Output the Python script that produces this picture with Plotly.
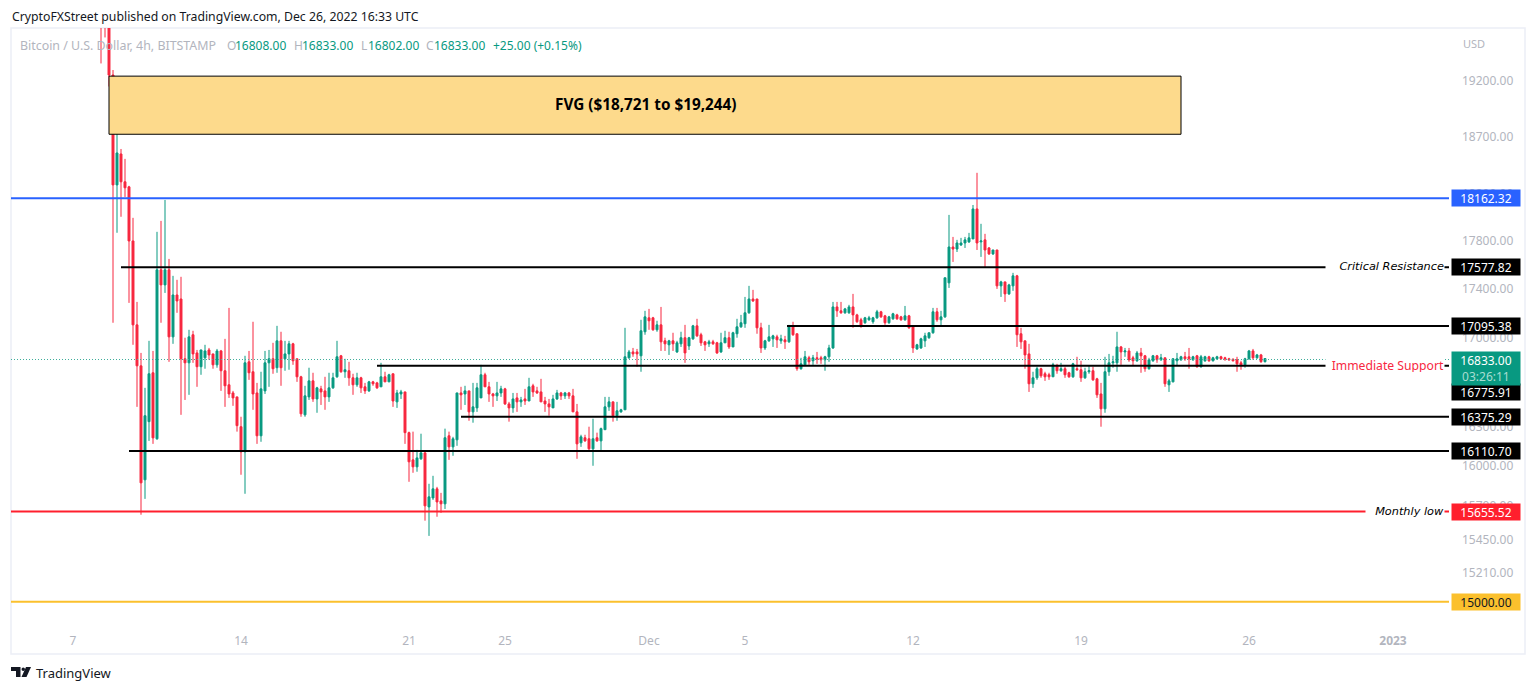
import pandas as pd
import numpy as np
import plotly.graph_objects as go

FIRST_BAR = "2022-11-08 04:00"

opens = [
19850,19900,19800,19254,18277,18547,18304,18260,17798,17104,
16775,15893,16337,16720,16205,17556,17431,17556,17007,17348,
17315,16831,16799,17024,16878,16768,16839,16902,16870,16783,
16894,16736,16625,16561,16530,16298,16105,16807,16728,16561,
16228,16577,16799,16831,16760,16975,16831,16870,16951,16831,
16688,16390,16530,16656,16514,16593,16577,16530,16601,16688,
16855,16728,16736,16680,16625,16680,16609,16577,16648,16640,
16609,16688,16648,16712,16491,16553,16569,16252,16044,15991,
16052,16097,15690,15757,15825,15735,15713,16228,16143,16197,
16561,16553,16577,16413,16444,16522,16704,16609,16553,16538,
16561,16593,16475,16444,16522,16491,16514,16498,16617,16577,
16569,16498,16475,16444,16514,16561,16538,16561,16538,16413,
16174,16213,16205,16128,16213,16189,16275,16452,16491,16383,
16413,16429,16839,16886,16886,16855,17048,17161,17161,17064,
17104,16975,16943,16975,16886,16951,17000,16934,16991,17096,
17024,16967,16951,16967,16959,16886,16959,17000,16926,17032,
17088,17113,17202,17315,17315,17080,16918,16975,16991,17007,
16975,16983,16967,17096,17032,16752,16783,16839,16815,16839,
16839,16823,16847,16918,17250,17218,17202,17202,17250,17185,
17145,17121,17145,17129,17161,17210,17177,17121,17153,17185,
17169,17145,17177,17088,16910,16918,16975,17000,17040,17210,
17145,17169,17448,17747,17730,17764,17781,17790,17815,18070,
17790,17807,17739,17689,17722,17423,17456,17357,17423,17506,
17032,16975,16870,16633,16680,16752,16712,16704,16688,16775,
16736,16752,16720,16688,16752,16744,16680,16728,16736,16672,
16553,16437,16728,16799,16799,16926,16886,16894,16839,16815,
16878,16855,16752,16815,16855,16823,16839,16625,16648,16815,
16823,16847,16847,16823,16855,16768,16815,16847,16815,16831,
16847,16839,16831,16827,16823,16799,16783,16831,16894,16839,
16862,16808]

highs = [
19950,20000,19900,19300,18759,18591,18504,18269,17994,17291,
16878,16601,16975,16894,17875,17968,18147,17647,17506,17473,
17498,17000,17064,17056,16902,16902,16943,16918,16870,16910,
16902,16991,17242,16577,16530,16375,16855,16894,17129,16640,
16728,16894,16902,16959,17096,17048,16975,16975,16959,16831,
16696,16617,16760,16720,16609,16617,16688,16720,16720,16975,
16862,16831,16807,16712,16720,16688,16640,16656,16656,16648,
16799,16728,16712,16712,16585,16585,16569,16260,16260,16120,
16244,16105,15863,15923,15840,15795,16283,16260,16220,16561,
16609,16617,16577,16640,16640,16783,16720,16648,16561,16648,
16617,16601,16491,16561,16561,16530,16593,16680,16633,16609,
16672,16530,16514,16546,16585,16569,16569,16569,16593,16475,
16236,16236,16298,16360,16252,16291,16530,16530,16491,16491,
16437,17080,16902,16918,16910,17145,17218,17234,17169,17137,
17250,17000,16983,17040,16975,17048,17104,17007,17104,17153,
17040,16975,16983,16983,16967,17040,17056,17048,17048,17153,
17185,17332,17423,17390,17315,17121,16983,17104,17024,17024,
17024,17015,17104,17129,17032,16839,16894,16855,16862,16886,
16855,16855,16943,17291,17291,17291,17242,17267,17357,17194,
17161,17169,17177,17169,17226,17218,17185,17177,17202,17194,
17177,17258,17185,17096,16951,17000,17040,17040,17242,17242,
17218,17490,18019,17832,17807,17824,17832,17866,18104,18382,
17943,17858,17747,17722,17722,17465,17456,17440,17531,17514,
17080,16975,16951,16728,16768,16760,16728,16720,16799,16791,
16799,16768,16728,16799,16847,16815,16760,16775,16768,16680,
16640,16847,16870,16855,17048,16934,16918,16918,16855,16894,
16918,16862,16839,16862,16862,16870,16839,16672,16836,16878,
16855,16886,16918,16855,16862,16862,16855,16855,16847,16855,
16855,16847,16839,16835,16847,16815,16839,16902,16910,16870,
16870,16833]

lows = [
19360,19600,19150,17121,17867,18003,18173,17283,16943,16452,
15632,15750,16189,16166,16197,17121,17365,16807,16951,17202,
16390,16506,16546,16799,16609,16704,16752,16823,16752,16760,
16577,16452,16522,16460,16260,15931,15788,16664,16429,16166,
16182,16553,16609,16712,16720,16617,16736,16744,16783,16648,
16375,16375,16506,16491,16406,16467,16429,16491,16593,16680,
16720,16680,16617,16546,16609,16561,16553,16569,16617,16593,
16609,16648,16648,16452,16444,16514,16166,15878,15946,15954,
16044,15588,15476,15742,15617,15646,15675,16044,16075,16151,
16429,16467,16344,16329,16413,16522,16609,16491,16452,16498,
16530,16467,16337,16406,16413,16452,16467,16498,16530,16553,
16491,16413,16383,16444,16506,16506,16514,16514,16413,16052,
16143,16182,16120,15999,16182,16105,16275,16421,16337,16344,
16406,16429,16831,16847,16768,16728,17024,17064,17056,17048,
16894,16894,16862,16894,16878,16926,16799,16902,16983,17007,
16934,16894,16926,16943,16870,16878,16959,16910,16926,17000,
17080,17080,17194,17291,17032,16878,16902,16967,16926,16918,
16951,16910,16959,17015,16736,16744,16775,16783,16783,16791,
16791,16736,16807,16910,17169,17194,17194,17194,17080,17121,
17080,17113,17137,17113,17153,17161,17104,17113,17145,17145,
17137,17137,17072,16878,16902,16910,16926,16991,17032,17129,
17096,17161,17406,17622,17705,17756,17739,17781,17815,17722,
17664,17572,17680,17680,17398,17332,17291,17348,17382,16926,
16910,16752,16569,16601,16664,16680,16656,16664,16688,16712,
16728,16680,16680,16680,16736,16648,16672,16712,16656,16522,
16298,16406,16696,16760,16728,16783,16847,16807,16775,16807,
16720,16728,16744,16807,16799,16815,16609,16569,16645,16775,
16815,16815,16752,16815,16760,16760,16807,16807,16810,16823,
16823,16815,16818,16810,16728,16744,16760,16823,16823,16831,
16799,16802]

closes = [
19760,19800,19254,18277,18556,18304,18252,17798,17104,16775,
15870,16383,16712,16212,17556,17431,17556,17007,17348,17299,
16831,16799,17007,16870,16768,16902,16894,16862,16783,16894,
16736,16617,16553,16522,16306,16105,16799,16720,16553,16228,
16593,16799,16831,16752,16975,16760,16870,16951,16815,16688,
16398,16538,16656,16514,16601,16569,16530,16601,16680,16847,
16728,16744,16680,16625,16680,16601,16577,16648,16633,16601,
16688,16648,16704,16498,16561,16569,16252,16029,15991,16059,
16097,15698,15765,15825,15727,15713,16213,16143,16205,16561,
16546,16577,16413,16452,16601,16704,16609,16553,16538,16561,
16593,16475,16444,16514,16491,16506,16498,16609,16569,16561,
16491,16475,16452,16514,16561,16538,16561,16538,16413,16166,
16220,16189,16128,16205,16189,16283,16452,16491,16383,16421,
16429,16847,16886,16870,16870,17056,17169,17137,17064,17104,
16967,16951,16975,16951,16959,17000,16878,17000,17096,17015,
16959,16943,16967,16951,16878,16959,17000,16926,17040,17088,
17121,17202,17315,17299,17080,16918,16975,17007,17015,16983,
16991,16967,17096,17024,16752,16791,16847,16807,16839,16831,
16823,16847,16918,17250,17218,17202,17234,17250,17185,17129,
17096,17161,17161,17161,17210,17169,17121,17169,17194,17153,
17145,17177,17080,16918,16943,16991,17015,17040,17210,17145,
17169,17490,17747,17730,17781,17781,17807,17824,18070,17781,
17798,17722,17689,17722,17423,17456,17357,17431,17506,17024,
16967,16862,16633,16680,16752,16696,16688,16688,16783,16736,
16752,16704,16688,16791,16744,16680,16728,16736,16664,16546,
16437,16728,16799,16807,16926,16886,16894,16823,16815,16878,
16855,16752,16823,16855,16823,16839,16633,16656,16831,16831,
16847,16831,16831,16847,16768,16847,16847,16815,16839,16847,
16831,16831,16823,16815,16791,16783,16831,16894,16839,16862,
16808,16833]

tick_prices = [19200, 18700, 18200, 17800, 17400, 17000, 16300, 16000, 15700, 15450, 15210]
time_ticks = ["2022-11-07", "2022-11-14", "2022-11-21", "2022-11-25", "2022-12-01",
              "2022-12-05", "2022-12-12", "2022-12-19", "2022-12-26", "2023-01-01"]
time_labels = ["7", "14", "21", "25", "Dec", "5", "12", "19", "26", "<b>2023</b>"]

level_values = [18162.32, 17577.82, 17095.38, 16775.91, 16375.29, 16110.70, 15655.52, 15000.00]
level_starts = ["2022-11-04 10:00", "2022-11-09 00:00", "2022-12-06 18:00", "2022-11-19 16:00",
                "2022-11-23 04:00", "2022-11-09 08:00", "2022-11-04 10:00", "2022-11-04 10:00"]
level_colors = ["#2962FF", "#000000", "#000000", "#000000", "#000000", "#000000", "#FF1F2D", "#FBC02D"]
level_text = ["#FFFFFF"] * 7 + ["#131722"]
level_shift = [0, 0, 0, -26, 0, 0, 0, 0]

last_price = 16833.00
fvg_low, fvg_high = 18721, 19244

W, H = 1536, 691
L, R, T, B = 11, 1449, 28, 627
X_START, X_END = "2022-11-04 10:00", "2023-01-03 08:00"
FONT = "Noto Sans"
GREEN, RED = "#089981", "#F7273F"
GREY = "#B2B5BE"

def px(x): return (x - L) / (R - L)
def py(y): return (B - y) / (B - T)

dates = pd.date_range(FIRST_BAR, periods=len(closes), freq="4h")

fig = go.Figure(go.Candlestick(
    x=dates, open=opens, high=highs, low=lows, close=closes,
    increasing=dict(line=dict(color=GREEN, width=1), fillcolor=GREEN),
    decreasing=dict(line=dict(color=RED, width=1), fillcolor=RED),
    whiskerwidth=0, showlegend=False, hoverinfo="skip",
))

shapes = []
anns = []

# chart frame
shapes.append(dict(type="rect", xref="paper", yref="paper", x0=px(11), x1=px(1525), y0=py(654), y1=py(28),
                   line=dict(color="#ECEEF6", width=1.5), layer="below"))
# last price dotted line
shapes.append(dict(type="line", xref="x", yref="y", x0=X_START, x1=X_END, y0=last_price * 0.99955, y1=last_price * 0.99955,
                   line=dict(color="#3FAE9B", width=1, dash="1px,2px")))
# fair value gap box
shapes.append(dict(type="rect", xref="x", yref="y", x0="2022-11-08 12:00", x1="2022-12-23 04:00",
                   y0=fvg_low, y1=fvg_high, fillcolor="#FDDA8C", line=dict(color="#000000", width=1)))
anns.append(dict(xref="x", yref="y", x="2022-11-30 20:00", y=np.log10((fvg_low * fvg_high) ** 0.5), yshift=1,
                 text="<b>FVG ($18,721 to $19,244)</b>", showarrow=False,
                 font=dict(family=FONT, size=15.3, color="#000000")))

for v, s, c in zip(level_values, level_starts, level_colors):
    shapes.append(dict(type="line", xref="x", yref="y", x0=s, x1=X_END, y0=v, y1=v,
                       line=dict(color=c, width=2)))

# notes sitting on the lines
NOTE_FONT = "DejaVu Sans"
for v, txt, col, x0, fam, sz in [
    (17577.82, "<i>Critical Resistance</i>", "#000000", 1327, NOTE_FONT, 11.3),
    (16775.91, "Immediate Support", "#F7273F", 1327, FONT, 12.2),
    (15655.52, "<i>Monthly low</i>", "#000000", 1367, NOTE_FONT, 11.3),
]:
    anns.append(dict(xref="paper", yref="y", x=px(1445), y=np.log10(v), xanchor="right", yanchor="middle",
                     text=txt, showarrow=False, bgcolor="#FFFFFF", width=1445 - x0, align="right",
                     height=14, borderpad=0, yshift=1, font=dict(family=fam, size=sz, color=col)))

# price boxes
for v, c, tc, sh in zip(level_values, level_colors, level_text, level_shift):
    anns.append(dict(xref="paper", yref="y", x=px(1451), y=np.log10(v), xanchor="left", yanchor="middle",
                     yshift=sh, text=f"{v:.2f}", showarrow=False, bgcolor=c, width=68, height=16, borderpad=0,
                     align="center", font=dict(family=FONT, size=12, color=tc)))
# last price box
anns.append(dict(xref="paper", yref="paper", x=px(1451), y=py(351), xanchor="left", yanchor="top",
                 text=f"{last_price:.2f}<br><span style='color:#A8DDD2'>03:26:11</span>", showarrow=False,
                 bgcolor=GREEN, width=68, height=33, borderpad=0, align="center",
                 font=dict(family=FONT, size=12, color="#FFFFFF")))

def label(x, y, text, color, size=12, anchor="left"):
    anns.append(dict(xref="paper", yref="paper", x=px(x), y=py(y), xanchor=anchor, yanchor="middle",
                     text=text, showarrow=False, font=dict(family=FONT, size=size, color=color)))

label(10, 16, "CryptoFXStreet published on TradingView.com, Dec 26, 2022 16:33 UTC", "#131722", 12.25)
label(18, 45, "Bitcoin / U.S. Dollar, 4h, BITSTAMP", GREY, 12.4)
for x, t, c in [(225, "O", GREY), (233, "16808.00", GREEN), (292, "H", GREY), (300, "16833.00", GREEN),
                (359, "L", GREY), (366, "16802.00", GREEN), (424, "C", GREY), (432, "16833.00", GREEN),
                (491, "+25.00 (+0.15%)", GREEN)]:
    label(x, 45, t, c, 12)
label(1461, 43, "USD", GREY, 11)
label(34, 673, "TradingView", "#131722", 13)

# logo
LOGO = "#131722"
shapes.append(dict(type="path", xref="paper", yref="paper", fillcolor=LOGO, line=dict(width=0),
                   path=f"M {px(11)} {py(667)} L {px(20.5)} {py(667)} L {px(20.5)} {py(677)} L {px(16)} {py(677)} L {px(16)} {py(671)} L {px(11)} {py(671)} Z"))
shapes.append(dict(type="path", xref="paper", yref="paper", fillcolor=LOGO, line=dict(width=0),
                   path=f"M {px(26)} {py(667)} L {px(31)} {py(667)} L {px(26.5)} {py(677)} L {px(21.5)} {py(677)} Z"))
shapes.append(dict(type="circle", xref="paper", yref="paper", fillcolor=LOGO, line=dict(width=0),
                   x0=px(21.5), x1=px(25), y0=py(671), y1=py(667.5)))

fig.update_layout(
    width=W, height=H, autosize=False,
    margin=dict(l=L, r=W - R, t=T, b=H - B, pad=0),
    paper_bgcolor="#FFFFFF", plot_bgcolor="#FFFFFF",
    shapes=shapes, annotations=anns, showlegend=False,
    font=dict(family=FONT, size=12, color=GREY),
    xaxis=dict(type="date", range=[X_START, X_END], rangeslider=dict(visible=False), showgrid=False,
               zeroline=False, showline=False, tickmode="array", tickvals=time_ticks, ticktext=time_labels,
               ticks="", ticklabelstandoff=5, tickfont=dict(family=FONT, size=12, color=GREY)),
    yaxis=dict(type="log", side="right", range=[np.log10(14822), np.log10(19688)], showgrid=False,
               zeroline=False, showline=False, tickmode="array", tickvals=tick_prices,
               ticktext=[f"{p:.2f}" for p in tick_prices], ticks="", ticklabelstandoff=12,
               tickfont=dict(family=FONT, size=12, color=GREY)),
)

fig.write_html("out.html", config=dict(displayModeBar=False),
               post_script="document.body.style.margin='0';")
